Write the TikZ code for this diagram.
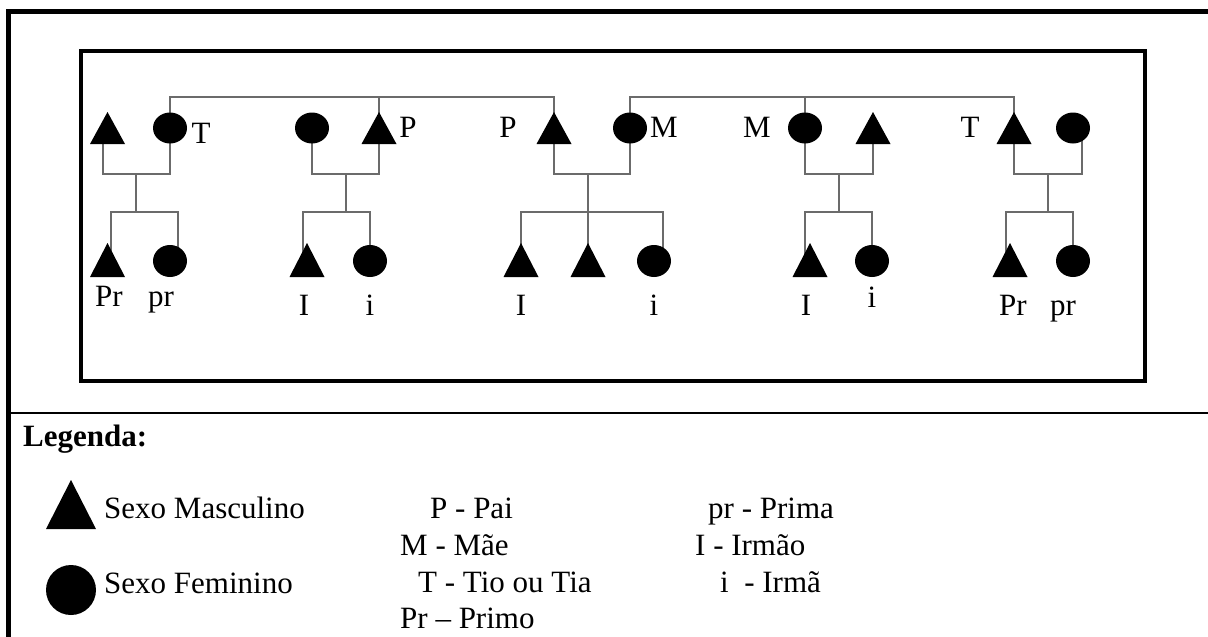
\documentclass[tikz,border=0pt]{standalone}
\usepackage{fontspec}
\setmainfont{Liberation Serif}
\usetikzlibrary{shapes.geometric,backgrounds}
\newcommand\lblfont{\fontsize{31}{37}\selectfont}
\tikzset{
  tri/.style={minimum width=35pt, minimum height=32pt, inner sep=0pt, outer sep=0pt,
    path picture={\fill (path picture bounding box.south west) -- (path picture bounding box.south east) -- (path picture bounding box.north) -- cycle;}},
  kidtri/.style={tri, minimum height=34pt},
  ell/.style={ellipse, fill=black, inner sep=0pt, outer sep=0pt, minimum width=34pt, minimum height=31pt},
  kidell/.style={ell, minimum height=32pt},
  conn/.style={draw=black!58, line width=1.3pt},
  lab/.style={font=\lblfont, inner sep=0pt, anchor=base},
  legtext/.style={font=\lblfont, inner sep=0pt, anchor=base west},
}
\begin{document}
\begin{tikzpicture}[x=1pt, y=-1pt]
\useasboundingbox (0,0) rectangle (1208,637);
% frames
\draw[line width=4.7pt, line join=miter] (8.5,637) -- (8.5,11.7) -- (1208,11.7);
\draw[line width=2.3pt] (8.5,413) -- (1208,413);
\draw[line width=3.5pt] (81,51) rectangle (1145,381);
% levels
\coordinate (L1) at (0,97);
\coordinate (L3) at (0,212);
\coordinate (mA) at (136,174);
\coordinate (mB) at (346,174);
\coordinate (mC) at (588,174);
\coordinate (mD) at (839,174);
\coordinate (mE) at (1048,174);
% row 1
\node[tri] (A1) at (107.5,128) {};
\node[ell] (A2) at (170,128) {};
\node[ell] (B1) at (312,128) {};
\node[tri] (B2) at (379,128) {};
\node[tri] (C1) at (554,128) {};
\node[ell] (C2) at (630,128) {};
\node[ell] (D1) at (805,128) {};
\node[tri] (D2) at (873,128) {};
\node[tri] (E1) at (1014,128) {};
\node[ell] (E2) at (1073,128) {};
% row 2
\node[kidtri] (a1) at (107.5,260) {};
\node[kidell] (a2) at (170,261) {};
\node[kidtri] (b1) at (307,260) {};
\node[kidell] (b2) at (370,261) {};
\node[kidtri] (c1) at (521,260) {};
\node[kidtri] (c2) at (588,260) {};
\node[kidell] (c3) at (654,261) {};
\node[kidtri] (d1) at (810,260) {};
\node[kidell] (d2) at (872,261) {};
\node[kidtri] (e1) at (1010,260) {};
\node[kidell] (e2) at (1073,261) {};
% connectors
\begin{scope}[on background layer]
\draw[conn] (A2.center) |- (C1.center |- L1) -- (C1.center);
\draw[conn] (B2.center) -- (B2.center |- L1);
\draw[conn] (C2.center) |- (E1.center |- L1) -- (E1.center);
\draw[conn] (D1.center) -- (D1.center |- L1);
% family A
\draw[conn] ([xshift=-4.5pt]A1.center) |- (mA) -| (A2.center);
\draw[conn] (mA) -- (mA |- L3);
\draw[conn] ([xshift=3.5pt]a1.center) |- (mA |- L3) -| ([xshift=8pt]a2.center);
% family B
\draw[conn] (B1.center) |- (mB) -| (B2.center);
\draw[conn] (mB) -- (mB |- L3);
\draw[conn] ([xshift=-4pt]b1.center) |- (mB |- L3) -| (b2.center);
% family C
\draw[conn] (C1.center) |- (mC) -| (C2.center);
\draw[conn] (mC) -- (c2.center);
\draw[conn] (c1.center) |- (mC |- L3) -| ([xshift=9pt]c3.center);
% family D
\draw[conn] (D1.center) |- (mD) -| (D2.center);
\draw[conn] (mD) -- (mD |- L3);
\draw[conn] ([xshift=-5pt]d1.center) |- (mD |- L3) -| (d2.center);
% family E
\draw[conn] (E1.center) |- (mE) -| ([xshift=9pt]E2.center);
\draw[conn] (mE) -- (mE |- L3);
\draw[conn] ([xshift=-4pt]e1.center) |- (mE |- L3) -| (e2.center);
\end{scope}
% labels row 1
\node[lab] (tA2) at (201,143) {T};
\node[lab] (tB2) at (408,137) {P};
\node[lab] (tC1) at (508,137) {P};
\node[lab] (tC2) at (664,137) {M};
\node[lab] (tD1) at (757,137) {M};
\node[lab] (tE1) at (970,137) {T};
% labels row 2
\node[lab] (ta1) at (109,306) {Pr};
\node[lab] (ta2) at (161,306) {pr};
\node[lab] (tb1) at (304,315) {I};
\node[lab] (tb2) at (370,315) {i};
\node[lab] (tc1) at (521,315) {I};
\node[lab] (tc3) at (654,315) {i};
\node[lab] (td1) at (806,315) {I};
\node[lab] (td2) at (872,307) {i};
\node[lab] (te1) at (1013,315) {Pr};
\node[lab] (te2) at (1063,315) {pr};
% legend
\node[legtext, font=\lblfont\bfseries] (leg) at (23,446) {Legenda:};
\node[tri, minimum width=50pt, minimum height=49pt] (legM) at (71,504.5) {};
\node[ell, minimum width=50pt, minimum height=50pt] (legF) at (71,590) {};
\node[legtext] (sm) at (104,518) {Sexo Masculino};
\node[legtext] (sf) at (104,593) {Sexo Feminino};
\node[legtext] (k1) at (430,518) {P - Pai};
\node[legtext] (k2) at (400,555) {M - Mãe};
\node[legtext] (k3) at (418,592) {T - Tio ou Tia};
\node[legtext] (k4) at (400,628) {Pr – Primo};
\node[legtext] (k5) at (708,518) {pr - Prima};
\node[legtext] (k6) at (695,555) {I - Irmão};
\node[legtext] (k7) at (720,592) {i\ \ - Irmã};
\end{tikzpicture}
\end{document}
